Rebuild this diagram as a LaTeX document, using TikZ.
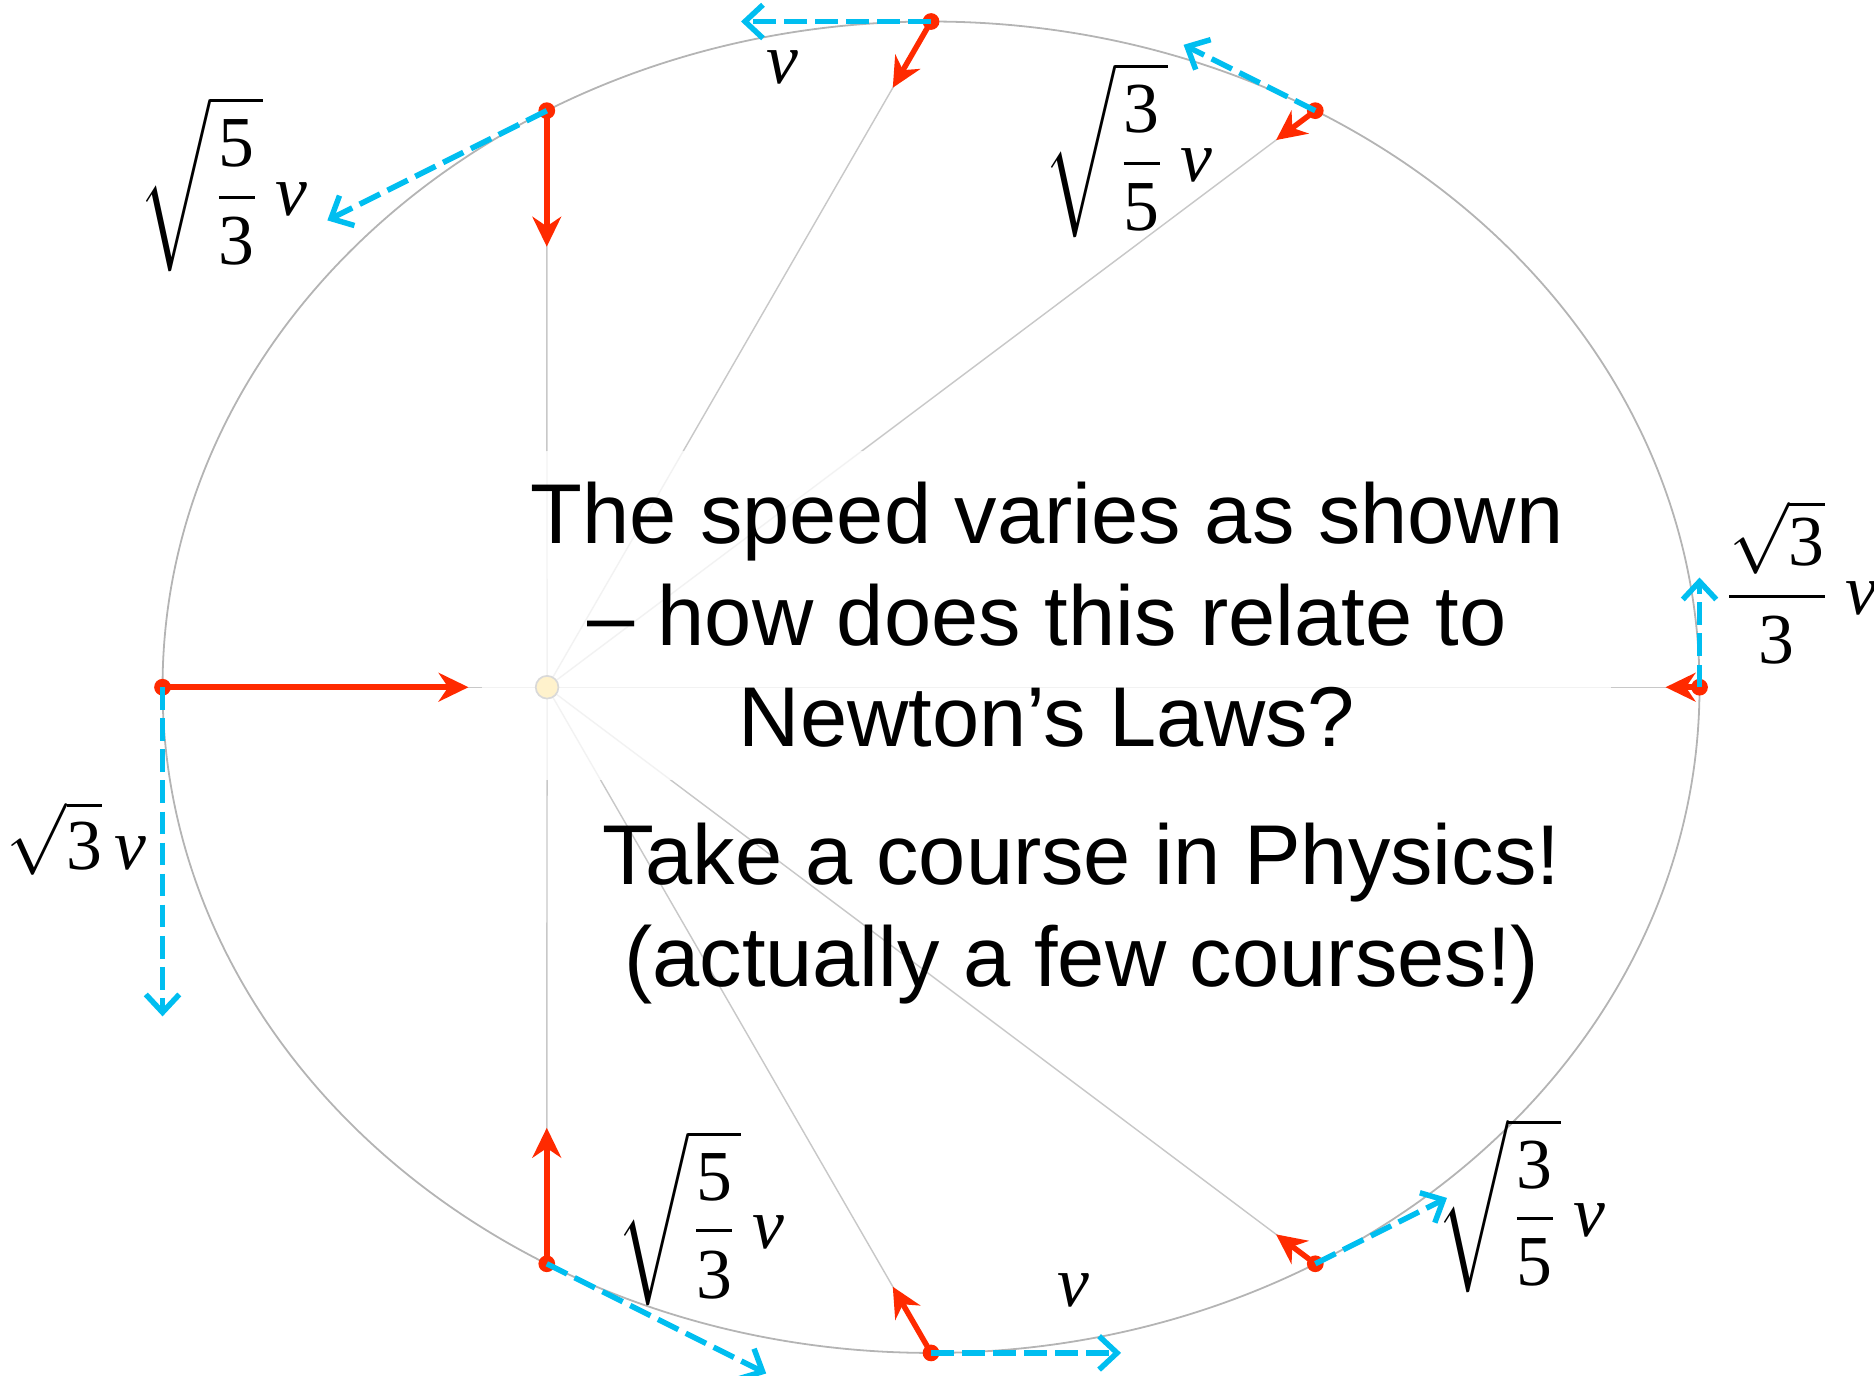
\documentclass[tikz,border=0pt]{standalone}
\usepackage{amsmath}
\usepackage{graphicx}
\usepackage{fontspec}
\newfontfamily\arial{Liberation Sans}
\newfontfamily\tnr{Liberation Serif}
\usetikzlibrary{arrows.meta,backgrounds}
\definecolor{accred}{HTML}{FF2A00}
\definecolor{velblue}{HTML}{00BEF0}
\definecolor{orbitgray}{HTML}{B4B4B4}
\definecolor{raygray}{HTML}{C8C8C8}
\definecolor{suncream}{HTML}{FFF2CC}
\newcommand{\tn}[1]{\text{\tnr #1}}
\newcommand{\vv}{\text{\tnr\itshape v}}
\newcommand{\lbl}[1]{\scalebox{3}{$\displaystyle #1$}}
\begin{document}
\begin{tikzpicture}[x=0.5pt,y=-0.5pt,
 orbit/.style={draw=orbitgray,line width=0.75pt},
 ray/.style={draw=raygray,line width=0.6pt},
 accel/.style={draw=accred,line width=2.3pt,-{Stealth[length=12.5pt,width=12pt,inset=4pt]}},
 vel/.style={draw=velblue,line width=2.3pt,dash pattern=on 9.5pt off 3.5pt,-{Straight Barb[length=7.5pt,width=14pt]}},
 body/.style={circle,fill=accred,inner sep=0pt,minimum size=7pt},
 sun/.style={circle,fill=suncream,draw=black!15,line width=0.7pt,inner sep=0pt,minimum size=9.5pt},
 msg/.style={anchor=base,inner sep=0pt,font=\arial\fontsize{35.5}{42.5}\selectfont},
 lab/.style={inner sep=0pt}]
\useasboundingbox (0,0) rectangle (1568,1151);
\coordinate (c) at (779,575);
\node[sun] (f) at (457.75,575) {};
% bodies on the orbit
\node[body] (p1) at (136,575) {};
\node[body] (p2) at (457.5,92.6) {};
\node[body] (p3) at (779,18) {};
\node[body] (p4) at (1100.5,92.6) {};
\node[body] (p5) at (1422,575) {};
\node[body] (p6) at (1100.5,1057.4) {};
\node[body] (p7) at (779,1132) {};
\node[body] (p8) at (457.5,1057.4) {};
% acceleration tips
\coordinate (a1) at (392,575);
\coordinate (a2) at (457.5,206.4);
\coordinate (a3) at (747,73.4);
\coordinate (a4) at (1067.7,117.2);
\coordinate (a5) at (1393.6,575);
\coordinate (a6) at (1067.7,1032.8);
\coordinate (a7) at (747,1076.6);
\coordinate (a8) at (457.5,943.6);
% velocity tips
\coordinate (v1) at (136,850.4);
\coordinate (v2) at (273.9,184.4);
\coordinate (v3) at (620,18);
\coordinate (v4) at (990.3,37.5);
\coordinate (v5) at (1422,483.2);
\coordinate (v6) at (1210.7,1002.3);
\coordinate (v7) at (938,1132);
\coordinate (v8) at (641.1,1149.2);
\begin{scope}[on background layer]
 \draw[orbit] (c) ellipse [x radius=321.5pt, y radius=278.5pt];
 \foreach \i in {1,...,8} {\draw[ray] (f.center) -- (p\i.center);}
 \fill[white,opacity=0.78] (403,377) rectangle (1348,653);
\end{scope}
\foreach \i in {1,...,8} {\draw[accel] (p\i.center) -- (a\i);}
\foreach \i in {1,...,8} {\draw[vel] (p\i.center) -- (v\i);}
% text
\node[msg] (t1) at (876,455) {The speed varies as shown};
\node[msg] (t2) at (876,540) {– how does this relate to};
\node[msg] (t3) at (876,625) {Newton’s Laws?};
\node[msg] (t4) at (905,740) {Take a course in Physics!};
\node[msg] (t5) at (905,825) {(actually a few courses!)};
% speed labels
\node[lab] (l1) at (186.5,154) {\lbl{\sqrt{\dfrac{\tn{5}}{\tn{3}}}\,\vv}};
\node[lab] (l2) at (655,56) {\lbl{\vv}};
\node[lab] (l3) at (943.5,125.5) {\lbl{\sqrt{\dfrac{\tn{3}}{\tn{5}}}\,\vv}};
\node[lab] (l4) at (1505,487) {\lbl{\dfrac{\sqrt{\tn{3}}}{\tn{3}}\,\vv}};
\node[lab] (l5) at (64,701.5) {\lbl{\sqrt{\tn{3}}\,\vv}};
\node[lab] (l6) at (586,1019) {\lbl{\sqrt{\dfrac{\tn{5}}{\tn{3}}}\,\vv}};
\node[lab] (l7) at (898,1080) {\lbl{\vv}};
\node[lab] (l8) at (1272.5,1008.5) {\lbl{\sqrt{\dfrac{\tn{3}}{\tn{5}}}\,\vv}};
\end{tikzpicture}
\end{document}
